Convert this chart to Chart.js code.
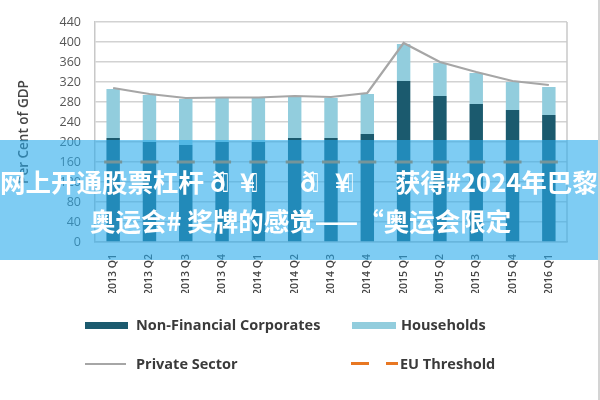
<!DOCTYPE html>
<html>
<head>
<meta charset="utf-8">
<script src="https://cdn.jsdelivr.net/npm/chart.js@4.4.1/dist/chart.umd.min.js"></script>
<style>
  html, body { margin: 0; padding: 0; background: #fff; }
  #wrap { position: relative; width: 600px; height: 400px; overflow: hidden; border-right: 2px solid #d4d4d4; box-sizing: border-box; }
  #c { position: absolute; left: 0; top: 0; }
  .lg { position: absolute; font-family: "Open Sans", sans-serif; font-weight: 700; font-size: 14.5px; color: #3a3a3a; white-space: nowrap; line-height: 1; }
  .sw { position: absolute; }
  #banner { position: absolute; left: 0; top: 140px; width: 600px; height: 120px; background: rgba(40,170,235,0.6); }
  .bt { position: absolute; font-family: "Noto Sans CJK SC", sans-serif; font-weight: 700; font-size: 25.5px; color: #fff; white-space: pre; line-height: 1; }
  #l1 span { position: absolute; top: 0; white-space: pre; }
  #l1 span.bx { font-family: "DejaVu Sans"; font-weight: 400; font-size: 25px; transform: scaleX(0.5); transform-origin: left center; }
</style>
</head>
<body>
<div id="wrap">
  <canvas id="c" width="600" height="400"></canvas>
  <div class="sw" style="left:85px;top:322px;width:43px;height:7px;background:#1b5a6e"></div>
  <div class="lg" style="left:136px;top:318px">Non-Financial Corporates</div>
  <div class="sw" style="left:352px;top:322px;width:44px;height:7px;background:#92cddd"></div>
  <div class="lg" style="left:401px;top:318px">Households</div>
  <div class="sw" style="left:85px;top:363px;width:41px;height:2px;background:#a6a6a6"></div>
  <div class="lg" style="left:136px;top:357px">Private Sector</div>
  <div class="sw" style="left:351px;top:362px;width:18px;height:3px;background:#e87722"></div>
  <div class="sw" style="left:386px;top:362px;width:12px;height:3px;background:#e87722"></div>
  <div class="lg" style="left:400px;top:357px">EU Threshold</div>
  <div id="banner"></div>
  <div class="bt" id="l1" style="left:0px;top:168px;width:600px;height:30px"></div>
  <div class="bt" id="l2" style="left:90px;top:207px"></div>
</div>
<script>
const categories = ['2013 Q1','2013 Q2','2013 Q3','2013 Q4','2014 Q1','2014 Q2','2014 Q3','2014 Q4','2015 Q1','2015 Q2','2015 Q3','2015 Q4','2016 Q1'];
const nonFinancialCorporates = [208,200,194,200,200,208,208,216,322,292,276,264,254];
const households = [98,94,92,88,88,82,80,80,74,66,62,56,56];
const privateSector = [308,296,288,289,289,292,290,298,398,360,340,322,314];
const euThreshold = [160,160,160,160,160,160,160,160,160,160,160,160,160];
const yTicks = [0,40,80,120,160,200,240,280,320,360,400,440];
const bannerParts1 = ['网上开通股票杠杆', 'ð', '▯', '¥', '▯', 'ð', '▯', '¥', '▯', '获得#2024年巴黎'];
const bannerLeft1 = [0, 210, 222, 240, 251, 300, 312, 335, 347, 395];
const bannerLine2 = '奥运会# 奖牌的感觉——“奥运会限定';

const l1 = document.getElementById('l1');
bannerParts1.forEach((p, i) => {
  const s = document.createElement('span');
  s.textContent = p;
  if (p === '▯') s.className = 'bx';
  s.style.left = bannerLeft1[i] + 'px';
  l1.appendChild(s);
});
document.getElementById('l2').textContent = bannerLine2;

const frame = {
  id: 'frame',
  afterDraw(chart) {
    const a = chart.chartArea, ctx = chart.ctx;
    ctx.save();
    ctx.strokeStyle = '#c8c8c8';
    ctx.lineWidth = 1.5;
    ctx.beginPath();
    ctx.moveTo(a.right, a.top);
    ctx.lineTo(a.right, a.bottom);
    ctx.stroke();
    ctx.restore();
  }
};

new Chart(document.getElementById('c'), {
  type: 'bar',
  data: {
    labels: categories,
    datasets: [
      { type: 'line', label: 'EU Threshold', data: euThreshold, stack: 'eu', showLine: false, pointStyle: 'line', pointRadius: 9, pointHoverRadius: 9, pointBorderWidth: 3, borderColor: '#e87722', backgroundColor: '#e87722', order: 0 },
      { type: 'line', label: 'Private Sector', data: privateSector, stack: 'ps', borderColor: '#a6a6a6', borderWidth: 2.2, pointRadius: 0, tension: 0, fill: false, order: 1 },
      { label: 'Non-Financial Corporates', data: nonFinancialCorporates, backgroundColor: '#1b5a6e', stack: 's', order: 2 },
      { label: 'Households', data: households, backgroundColor: '#92cddd', stack: 's', order: 3 }
    ]
  },
  options: {
    responsive: false,
    animation: false,
    layout: { padding: { left: 12, right: 33, top: 22, bottom: 107 } },
    datasets: { bar: { categoryPercentage: 1, barPercentage: 0.37 } },
    plugins: { legend: { display: false }, tooltip: { enabled: false } },
    scales: {
      x: {
        stacked: true,
        grid: { display: false },
        border: { color: '#c8c8c8', width: 1.5 },
        ticks: { minRotation: 90, maxRotation: 90, color: '#444', font: { family: 'Open Sans', size: 10.5, weight: '600' }, padding: 4 },
        afterFit(axis) { axis.height = 51; }
      },
      y: {
        stacked: true,
        min: 0, max: 440,
        afterBuildTicks(axis) { axis.ticks = yTicks.map(v => ({ value: v })); },
        grid: { color: '#d2d2d2', lineWidth: 1.5, drawTicks: false },
        border: { color: '#c8c8c8', width: 1.5 },
        ticks: { color: '#555', font: { family: 'Open Sans', size: 12.5 }, padding: 14 },
        title: { display: true, text: 'Per Cent of GDP', color: '#444', font: { family: 'Open Sans', size: 13.5, weight: '600' }, padding: { bottom: 6 } },
        afterFit(axis) { axis.width = 83; }
      }
    }
  },
  plugins: [frame]
});
</script>
</body>
</html>
